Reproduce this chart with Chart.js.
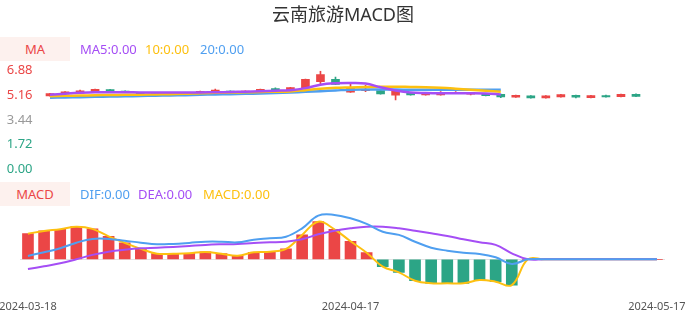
<!DOCTYPE html>
<html><head><meta charset="utf-8">
<script src="https://cdn.jsdelivr.net/npm/chart.js@4.4.0/dist/chart.umd.min.js"></script>
<style>
html,body{margin:0;padding:0;background:#fff;}
#wrap{position:relative;width:686px;height:320px;overflow:hidden;font-family:"Noto Sans","Noto Sans CJK SC",sans-serif;}
canvas{position:absolute;left:0;top:0;}
.t{position:absolute;white-space:nowrap;font-size:13px;line-height:24px;}
.box{position:absolute;left:0;width:70px;height:24px;background:#fdf1ee;color:#eb4646;text-align:center;font-size:13px;line-height:24px;}
#title{position:absolute;left:0;top:2px;width:686px;text-align:center;font-size:18px;line-height:24px;color:#333;}
</style></head><body>
<div id="wrap">
<canvas id="k" width="686" height="320"></canvas>
<canvas id="m" width="686" height="320"></canvas>
<div id="title">云南旅游MACD图</div>
<div class="box" style="top:37px">MA</div>
<div class="t" style="left:80px;top:37px;color:#a54ef5">MA5:0.00</div>
<div class="t" style="left:145px;top:37px;color:#fdc010">10:0.00</div>
<div class="t" style="left:200px;top:37px;color:#4f9ff0">20:0.00</div>
<div class="box" style="top:182px">MACD</div>
<div class="t" style="left:80px;top:182px;color:#4f9ff0">DIF:0.00</div>
<div class="t" style="left:138px;top:182px;color:#a54ef5">DEA:0.00</div>
<div class="t" style="left:203px;top:182px;color:#fdc010">MACD:0.00</div>
</div>
<script>
const dates = ["2024-03-18","2024-03-19","2024-03-20","2024-03-21","2024-03-22","2024-03-25","2024-03-26","2024-03-27","2024-03-28","2024-03-29",
"2024-04-01","2024-04-02","2024-04-03","2024-04-08","2024-04-09","2024-04-10","2024-04-11","2024-04-12","2024-04-15","2024-04-16",
"2024-04-17","2024-04-18","2024-04-19","2024-04-22","2024-04-23","2024-04-24","2024-04-25","2024-04-26","2024-04-29","2024-04-30",
"2024-05-06","2024-05-07","2024-05-08","2024-05-09","2024-05-10","2024-05-13","2024-05-14","2024-05-15","2024-05-16","2024-05-17"];
const shownDates = ["2024-03-18","2024-04-17","2024-05-17"];

const open  = [5.12,5.25,5.30,5.40,5.55,5.45,5.32,5.28,5.28,5.30,5.38,5.42,5.45,5.42,5.44,5.62,5.52,5.66,6.12,6.28,5.38,5.48,5.48,5.16,5.30,5.18,5.18,5.33,5.24,5.28,5.22,5.03,5.12,4.98,5.04,5.16,5.00,5.14,5.06,5.22];
const close = [5.27,5.40,5.47,5.58,5.44,5.40,5.22,5.16,5.32,5.34,5.44,5.52,5.42,5.45,5.58,5.48,5.70,6.28,6.60,5.92,5.68,5.52,5.26,5.46,5.18,5.28,5.28,5.35,5.28,5.14,5.04,5.16,4.98,5.12,5.20,5.02,5.14,5.04,5.22,5.08];
const high  = [5.30,5.42,5.52,5.60,5.57,5.47,5.35,5.30,5.34,5.36,5.46,5.60,5.47,5.47,5.60,5.68,5.72,6.30,6.86,6.44,5.92,5.86,5.50,5.48,5.32,5.30,5.42,5.42,5.32,5.30,5.24,5.18,5.14,5.14,5.22,5.18,5.16,5.17,5.25,5.26];
const low   = [5.10,5.23,5.28,5.38,5.42,5.38,5.18,5.14,5.26,5.28,5.36,5.40,5.40,5.40,5.42,5.46,5.50,5.64,5.98,5.90,5.36,5.42,5.24,4.84,5.16,5.16,5.16,5.30,5.18,5.12,5.00,5.01,4.96,4.96,5.02,4.98,4.98,5.02,5.04,5.06];

const ma5  = [5.20,5.27,5.33,5.37,5.38,5.37,5.36,5.36,5.36,5.36,5.36,5.37,5.39,5.41,5.44,5.48,5.52,5.66,5.90,6.00,6.02,5.98,5.72,5.50,5.36,5.32,5.30,5.30,5.30,5.28,5.22];
const ma10 = [5.10,5.12,5.14,5.16,5.18,5.19,5.20,5.22,5.24,5.26,5.31,5.33,5.35,5.37,5.39,5.41,5.43,5.52,5.62,5.68,5.71,5.74,5.76,5.76,5.74,5.72,5.68,5.62,5.55,5.48,5.40];
const ma20 = [4.99,5.01,5.03,5.05,5.07,5.09,5.11,5.13,5.15,5.17,5.20,5.22,5.24,5.26,5.29,5.32,5.36,5.40,5.45,5.50,5.55,5.56,5.56,5.56,5.55,5.55,5.55,5.55,5.54,5.54,5.54];

const dif  = [0.017,0.035,0.055,0.083,0.102,0.102,0.093,0.083,0.075,0.077,0.082,0.088,0.088,0.085,0.098,0.105,0.113,0.155,0.218,0.222,0.205,0.177,0.138,0.122,0.088,0.058,0.043,0.033,0.027,0.010,-0.023,0,0,0,0,0,0,0,0,0];
const dea  = [-0.049,-0.035,-0.020,0.000,0.022,0.038,0.048,0.055,0.058,0.062,0.067,0.072,0.075,0.077,0.082,0.085,0.088,0.100,0.125,0.143,0.155,0.163,0.163,0.155,0.143,0.130,0.117,0.100,0.085,0.072,0.030,0,0,0,0,0,0,0,0,0];
const macd = [0.128,0.142,0.150,0.163,0.152,0.115,0.082,0.052,0.028,0.028,0.030,0.037,0.028,0.018,0.035,0.038,0.052,0.122,0.188,0.150,0.090,0.033,-0.037,-0.065,-0.107,-0.120,-0.120,-0.120,-0.104,-0.112,-0.129,0,0,0,0,0,0,0,0,0];

const priceTicks = [0, 1.72, 3.44, 5.16, 6.88];
const priceTickColors = ['#2ca586','#2ca586','#999999','#eb4646','#eb4646'];

const UP = '#eb4646', DOWN = '#2ca586';
const PURPLE = '#a54ef5', YELLOW = '#fdc010', BLUE = '#4f9ff0';
const FONT = 'Noto Sans';

const candleColor = dates.map((d,i) => close[i] >= open[i] ? UP : DOWN);

const common = {
  responsive:false, animation:false, events:[],
  plugins:{legend:{display:false}, tooltip:{enabled:false}}
};

new Chart(document.getElementById('k'), {
  type:'bar',
  data:{
    labels: dates,
    datasets:[
      {type:'line', data:ma5, borderColor:PURPLE, borderWidth:2.5, pointRadius:0, tension:0.4, order:0},
      {type:'line', data:ma10, borderColor:YELLOW, borderWidth:2.5, pointRadius:0, tension:0.4, order:0},
      {type:'line', data:ma20, borderColor:BLUE, borderWidth:2.5, pointRadius:0, tension:0.4, order:0},
      {data: dates.map((d,i)=>[low[i], high[i]]), backgroundColor:candleColor, barThickness:1, grouped:false, order:2},
      {data: dates.map((d,i)=>[open[i], close[i]]), backgroundColor:candleColor, barThickness:8, grouped:false, order:1}
    ]
  },
  options:{
    ...common,
    layout:{padding:{top:70.7, bottom:151, left:0, right:42.5}},
    scales:{
      x:{display:false, offset:true},
      y:{min:0, max:6.88,
         afterBuildTicks:s=>{ s.ticks = priceTicks.map(v=>({value:v})); },
         afterFit:s=>{ s.width = 42.5; s.paddingTop = 0; s.paddingBottom = 0; },
         grid:{display:false}, border:{display:false},
         ticks:{padding:2, font:{family:FONT, size:13}, color:c=>priceTickColors[c.index], callback:v=>Number(v).toFixed(2)}}
    }
  }
});

new Chart(document.getElementById('m'), {
  type:'bar',
  data:{
    labels: dates,
    datasets:[
      {type:'line', data:dif, borderColor:BLUE, borderWidth:2, pointRadius:0, tension:0.4, order:0},
      {type:'line', data:dea, borderColor:PURPLE, borderWidth:2, pointRadius:0, tension:0.4, order:0},
      {type:'line', data:macd, borderColor:YELLOW, borderWidth:2, pointRadius:0, tension:0.4, order:0},
      {data:macd, backgroundColor:macd.map(v=>v>=0?UP:DOWN), barThickness:11, order:1}
    ]
  },
  options:{
    ...common,
    layout:{padding:{top:209.3, bottom:0, left:19.9, right:21}},
    scales:{
      x:{offset:true, grid:{display:false}, border:{display:false},
         afterFit:s=>{ s.height = 30.7; s.paddingLeft = 0; s.paddingRight = 0; },
         ticks:{autoSkip:false, maxRotation:0, padding:3, font:{family:FONT, size:11}, color:'#555',
                callback:(v,i)=> shownDates.includes(dates[i]) ? dates[i] : ''}},
      y:{min:-0.15, max:0.25,
         afterBuildTicks:s=>{ s.ticks = [{value:0}]; },
         afterFit:s=>{ s.width = 0; },
         ticks:{display:false}, grid:{color:'#e3e3e3', drawTicks:false}, border:{display:false}}
    }
  }
});
</script>
</body></html>
